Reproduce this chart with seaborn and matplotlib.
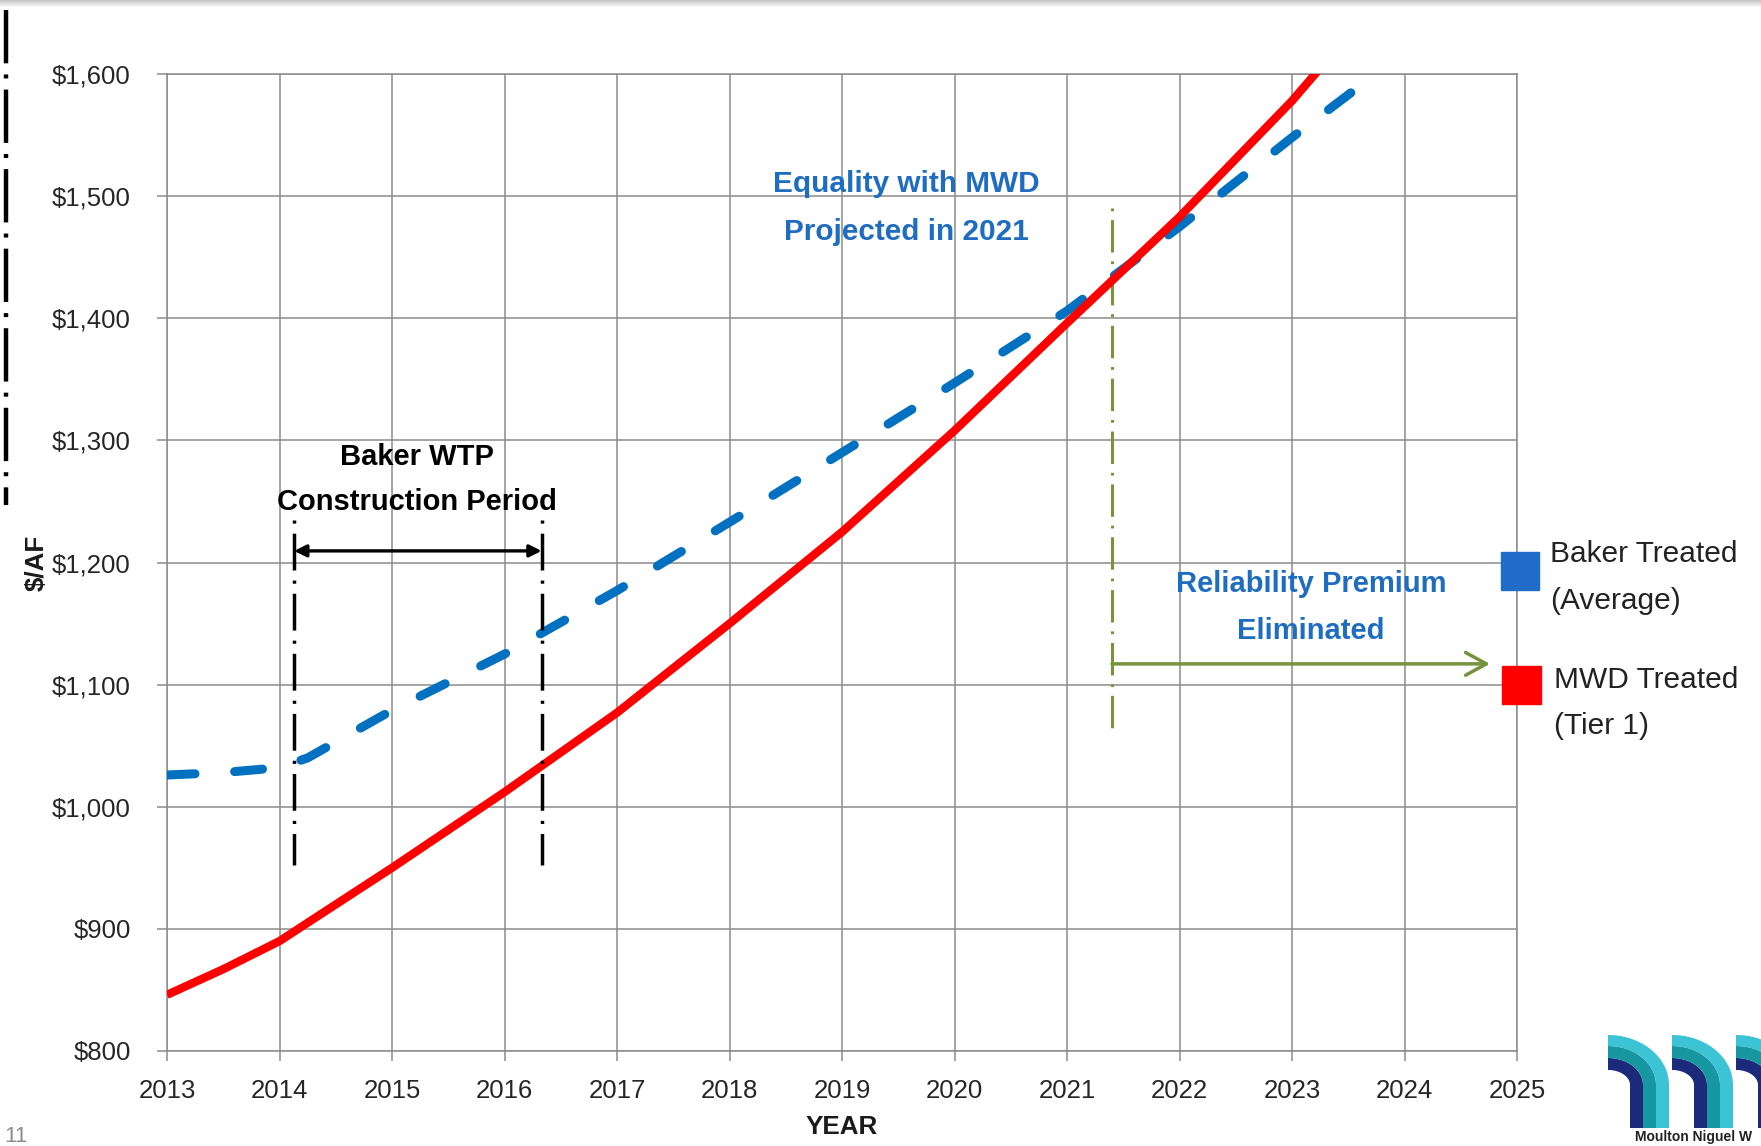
import numpy as np
import pandas as pd
import matplotlib
matplotlib.use("Agg")
import matplotlib.pyplot as plt
import seaborn as sns
from matplotlib.patches import Rectangle, Polygon
from matplotlib.lines import Line2D
from matplotlib.ticker import FuncFormatter

# values ($/AF)
mwd_years = [2013, 2013.5, 2014, 2015, 2016, 2017, 2018, 2019, 2020, 2021, 2022, 2023, 2024]
mwd_cost = [846, 867, 890, 950, 1012, 1077, 1150, 1225, 1308, 1396, 1483, 1578, 1685]

baker_years = [2013, 2013.5, 2014, 2014.25, 2014.5, 2015, 2016, 2017, 2018, 2019, 2020, 2021, 2022, 2023, 2024]
baker_cost = [1026, 1028, 1032, 1040, 1053, 1079, 1125, 1177, 1233, 1290, 1347, 1406, 1475, 1548, 1618]

year_ticks = list(range(2013, 2026))
cost_ticks = list(range(800, 1700, 100))

construction_start = 2014.13
construction_end = 2016.33
equality_year = 2021.40

df = pd.concat([
    pd.DataFrame({"year": baker_years, "cost": baker_cost, "series": "Baker"}),
    pd.DataFrame({"year": mwd_years, "cost": mwd_cost, "series": "MWD"}),
])

W, H = 1761, 1146
sns.set_theme(style="white")
plt.rcParams['font.family'] = ['Liberation Sans', 'DejaVu Sans']

fig = plt.figure(figsize=(W / 100, H / 100), dpi=100)
ax = fig.add_axes([167 / W, 95 / H, 1350 / W, 977 / H])

grid_col = '#8c8c8c'
blue_line = '#0070C0'
red_line = '#FF0000'
green = '#77933C'
text_blue = '#1F6DC0'

sns.lineplot(data=df, x="year", y="cost", hue="series", style="series", size="series",
             palette={"Baker": blue_line, "MWD": red_line},
             dashes={"Baker": (3.1, 4.4), "MWD": ""},
             sizes={"Baker": 6.5, "MWD": 6.0},
             legend=False, ax=ax, dash_capstyle='round', solid_capstyle='butt', zorder=5)

ax.set_xlim(2013, 2025)
ax.set_ylim(800, 1600)
ax.set_xticks(year_ticks)
ax.set_yticks(cost_ticks)
ax.yaxis.set_major_formatter(FuncFormatter(lambda v, p: f"${v:,.0f}"))
ax.grid(True, color=grid_col, lw=1.1)
for s in ax.spines.values():
    s.set_color(grid_col)
    s.set_linewidth(1.1)
ax.tick_params(axis='both', bottom=True, left=True, length=7, width=1.1, color=grid_col,
               labelsize=18.5, labelcolor='#262626')
ax.tick_params(axis='x', pad=13)
ax.tick_params(axis='y', pad=19)

ax.set_xlabel("YEAR", fontsize=18.7, fontweight='bold', color='#1a1a1a')
ax.set_ylabel("$/AF", fontsize=18.7, fontweight='bold', color='#1a1a1a')
ax.xaxis.set_label_coords(0.5, -0.066)
ax.yaxis.set_label_coords(-0.0874, 0.5)

# construction period markers
dashdot = (13.5, (10.6, 2.9, 0.9, 2.9))
for x in [construction_start, construction_end]:
    ax.plot([x, x], [1235, 952], color='black', lw=2.5, linestyle=dashdot, zorder=6)
ax.annotate("", xy=(construction_end, 1209.5), xytext=(construction_start, 1209.5),
            arrowprops=dict(arrowstyle='<|-|>,head_length=0.6,head_width=0.3', color='black',
                            lw=2.4, mutation_scale=12, shrinkA=0, shrinkB=0), zorder=6)
ax.text(2015.22, 1268, "Baker WTP\nConstruction Period", ha='center', va='center',
        fontsize=21, fontweight='bold', color='black', linespacing=1.8, zorder=7)

# equality marker
ax.plot([equality_year, equality_year], [1490, 1058], color=green, lw=2.2,
        linestyle=dashdot, zorder=4)
ax.annotate("", xy=(2024.76, 1117), xytext=(equality_year, 1117),
            arrowprops=dict(arrowstyle='->,head_length=0.75,head_width=0.41', color=green,
                            lw=2.5, mutation_scale=20, shrinkA=0, shrinkB=0), zorder=6)
ax.text(2019.57, 1490, "Equality with MWD\nProjected in 2021", ha='center', va='center',
        fontsize=21.4, fontweight='bold', color=text_blue, linespacing=1.9, zorder=7)
ax.text(2023.17, 1163, "Reliability Premium\nEliminated", ha='center', va='center',
        fontsize=21, fontweight='bold', color=text_blue, linespacing=1.87, zorder=7)

# legend
ax.add_patch(Rectangle((2025.03 - 0.168, 1193 - 15.5), 0.335, 31, color='#1F6DC8', clip_on=False, zorder=8))
ax.add_patch(Rectangle((2025.04 - 0.175, 1100 - 15.5), 0.35, 31, color=red_line, clip_on=False, zorder=8))
ax.text(2025.29, 1188, "Baker Treated\n(Average)", ha='left', va='center', fontsize=21.5,
        color='#222222', linespacing=1.85, clip_on=False)
ax.text(2025.33, 1085, "MWD Treated\n(Tier 1)", ha='left', va='center', fontsize=21.5,
        color='#222222', linespacing=1.83, clip_on=False)

# slide decorations
fig.add_artist(Line2D([6 / W, 6 / W], [1 - 10 / H, 1 - 505 / H], color='black', lw=3.2,
                      linestyle=(0, (12, 2.5, 0.9, 2.5)), transform=fig.transFigure))
top_ax = fig.add_axes([0, 1 - 8 / H, 1, 8 / H])
top_ax.imshow(np.linspace(0.78, 1.0, 8).reshape(-1, 1), cmap='gray', vmin=0, vmax=1,
              aspect='auto', extent=(0, 1, 0, 1))
top_ax.axis('off')
fig.text(4 / W, 9 / H, "11", fontsize=16, color='#8c8c8c', ha='left', va='center')

logo_ax = fig.add_axes([1600 / W, 0, 161 / W, 115 / H])
logo_ax.set_xlim(0, 161)
logo_ax.set_ylim(0, 115)
logo_ax.axis('off')
band_colors = ['#1B2A7B', '#1797A2', '#3CC3D6']
a = [22, 35, 48, 61]
b = [15, 27, 39, 50]
t = np.linspace(0, np.pi / 2, 40)
for x0 in [8, 72, 136]:
    yc, ybot = 61, 18
    for i, c in enumerate(band_colors):
        outer = np.column_stack([x0 + a[i + 1] * np.cos(t), yc + b[i + 1] * np.sin(t)])
        inner = np.column_stack([x0 + a[i] * np.cos(t[::-1]), yc + b[i] * np.sin(t[::-1])])
        pts = np.vstack([[x0 + a[i + 1], ybot], outer, inner, [x0 + a[i], ybot]])
        logo_ax.add_patch(Polygon(pts, closed=True, color=c, lw=0))
logo_ax.text(35, 9, "Moulton Niguel W", fontsize=10, fontweight='bold',
             color='#222222', va='center', ha='left')

fig.savefig("out.png", dpi=100)
